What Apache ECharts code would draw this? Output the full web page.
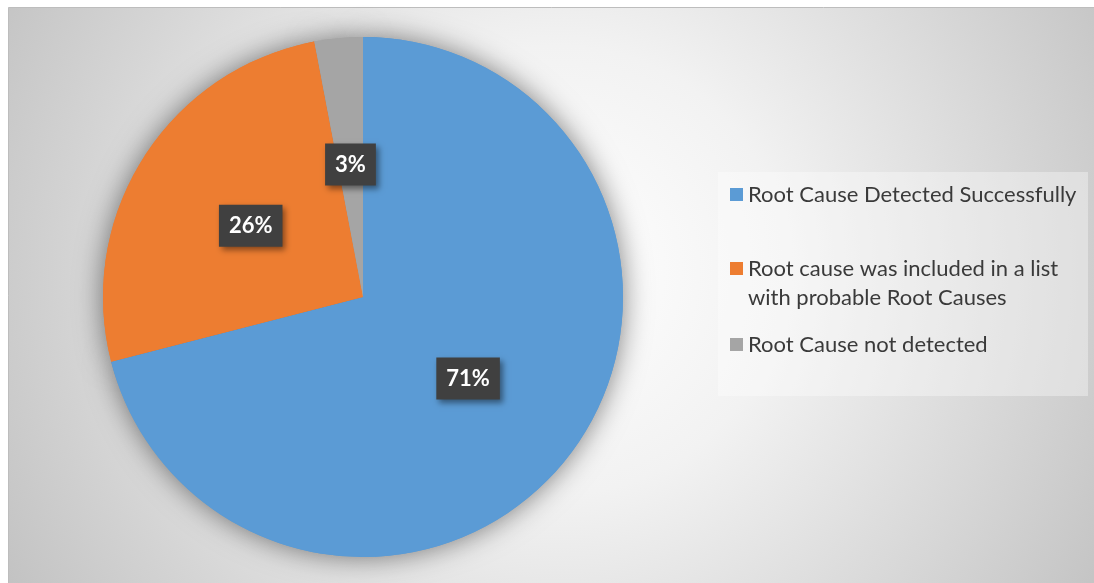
<!DOCTYPE html>
<html>
<head>
<meta charset="utf-8">
<script src="https://cdn.jsdelivr.net/npm/echarts@6/dist/echarts.min.js"></script>
<style>
  html, body { margin: 0; padding: 0; background: #ffffff; }
  #chart { width: 1094px; height: 583px; }
</style>
</head>
<body>
<div id="chart"></div>
<script>
// Outcome categories and their share of all analysed cases (percent)
const categories = [
  'Root Cause Detected Successfully',
  'Root cause was included in a list with probable Root Causes',
  'Root Cause not detected'
];
const shares = [71, 26, 3];
const sliceColors = ['#5B9BD5', '#ED7D31', '#A5A5A5'];
// Legend text, broken into the lines it is shown on
const legendLines = [
  ['Root Cause Detected Successfully'],
  ['Root cause was included in a list', 'with probable Root Causes'],
  ['Root Cause not detected']
];

const pieData = categories.map((name, i) => ({
  name: name,
  value: shares[i],
  itemStyle: { color: sliceColors[i] }
}));

const FONT = 'Lato, "Open Sans", sans-serif';
const LEGEND_LH = 29;
const legendTops = [180, 225, 330];

const legends = legendLines.map((lines, i) => ({
  data: [categories[i]],
  orient: 'vertical',
  left: 730,
  top: legendTops[i],
  padding: 0,
  icon: 'rect',
  itemWidth: 13,
  itemHeight: 13,
  selectedMode: false,
  formatter: () => lines.length > 1 ? ' \n' + lines.join('\n') : lines[0],
  textStyle: {
    color: '#3a3a3a',
    fontFamily: FONT,
    fontSize: 22,
    lineHeight: LEGEND_LH
  }
}));

const chart = echarts.init(document.getElementById('chart'), null, { renderer: 'canvas' });

chart.setOption({
  animation: false,
  graphic: [
    {
      // chart area with soft radial shading and a thin frame on top/left
      type: 'rect',
      z: -10,
      silent: true,
      shape: { x: 8.5, y: 7.5, width: 1100, height: 600 },
      style: {
        fill: new echarts.graphic.RadialGradient(560, 270, 640, [
          { offset: 0, color: '#ffffff' },
          { offset: 0.35, color: '#f2f2f2' },
          { offset: 1, color: '#c2c2c2' }
        ], true),
        stroke: '#bdbdbd',
        lineWidth: 1
      }
    },
    {
      // legend panel
      type: 'rect',
      z: -5,
      silent: true,
      shape: { x: 718, y: 172, width: 370, height: 224 },
      style: { fill: 'rgba(255,255,255,0.35)' }
    }
  ],
  legend: legends,
  series: [
    {
      // shadow layer beneath the pie
      type: 'pie',
      center: [363, 297],
      radius: 260,
      startAngle: 90,
      clockwise: true,
      silent: true,
      z: 1,
      label: { show: false },
      labelLine: { show: false },
      emphasis: { disabled: true },
      itemStyle: {
        shadowBlur: 28,
        shadowColor: 'rgba(0,0,0,0.5)'
      },
      data: pieData
    },
    {
      type: 'pie',
      center: [363, 297],
      radius: 260,
      startAngle: 90,
      clockwise: true,
      z: 2,
      emphasis: { disabled: true },
      itemStyle: { borderWidth: 0 },
      label: {
        show: true,
        position: 'inside',
        formatter: p => p.value + '%',
        color: '#ffffff',
        fontFamily: FONT,
        fontWeight: 'bold',
        fontSize: 22,
        lineHeight: 26,
        backgroundColor: '#404040',
        padding: [8, 10],
        shadowColor: 'rgba(0,0,0,0.45)',
        shadowBlur: 6,
        shadowOffsetX: 3,
        shadowOffsetY: 3
      },
      labelLine: { show: false },
      data: pieData
    }
  ]
});
</script>
</body>
</html>
